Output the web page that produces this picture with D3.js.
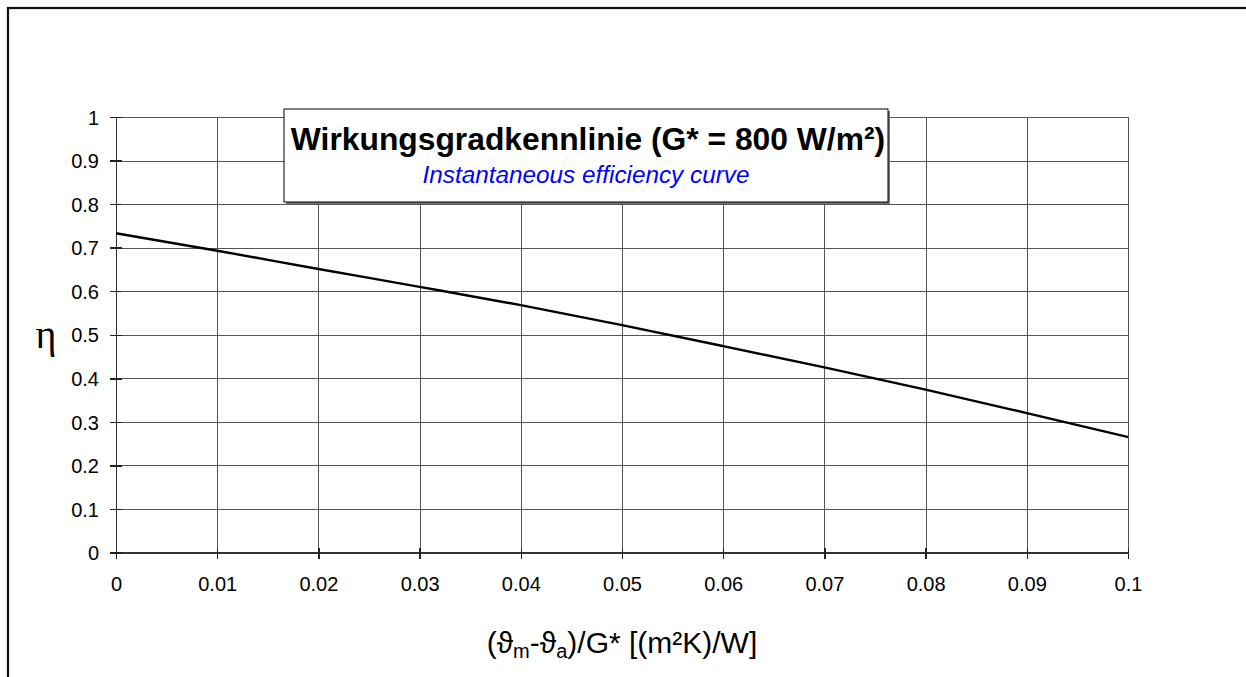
<!DOCTYPE html>
<html>
<head>
<meta charset="utf-8">
<script src="https://cdn.jsdelivr.net/npm/d3@7"></script>
<style>
  body { margin: 0; background: #fff; }
  svg { display: block; font-family: "Liberation Sans", Arial, sans-serif; }
  .grid line { stroke: #555; stroke-width: 1; shape-rendering: crispEdges; }
  .grid path { display: none; }
  .axis path { stroke: #333; stroke-width: 1.5; shape-rendering: crispEdges; }
  .axis line { stroke: #222; stroke-width: 1.5; shape-rendering: crispEdges; }
  .axis text { font-size: 20px; fill: #000; }
</style>
</head>
<body>
<div id="chart"></div>
<script>
// Data
var xValues = [0, 0.01, 0.02, 0.03, 0.04, 0.05, 0.06, 0.07, 0.08, 0.09, 0.1];
var etaValues = [0.733, 0.693, 0.651, 0.610, 0.568, 0.522, 0.474, 0.425, 0.374, 0.320, 0.265];

// Tick values and labels
var xTicks = [0, 0.01, 0.02, 0.03, 0.04, 0.05, 0.06, 0.07, 0.08, 0.09, 0.1];
var xTickLabels = ["0", "0.01", "0.02", "0.03", "0.04", "0.05", "0.06", "0.07", "0.08", "0.09", "0.1"];
var yTicks = [0, 0.1, 0.2, 0.3, 0.4, 0.5, 0.6, 0.7, 0.8, 0.9, 1];
var yTickLabels = ["0", "0.1", "0.2", "0.3", "0.4", "0.5", "0.6", "0.7", "0.8", "0.9", "1"];

var title = "Wirkungsgradkennlinie (G* = 800 W/m²)";
var subtitle = "Instantaneous efficiency curve";

var width = 1246;
var height = 677;

// Plot area
var plotLeft = 116, plotRight = 1128, plotTop = 117, plotBottom = 552.5;

var svg = d3.select("#chart")
    .append("svg")
    .attr("width", width)
    .attr("height", height);

// Outer frame (runs off the right and bottom edges)
svg.append("rect")
    .attr("x", 8)
    .attr("y", 8)
    .attr("width", width + 20)
    .attr("height", height + 20)
    .attr("fill", "none")
    .attr("stroke", "#111")
    .attr("stroke-width", 2.2);

var xScale = d3.scaleLinear().domain([0, 0.1]).range([plotLeft, plotRight]);
var yScale = d3.scaleLinear().domain([0, 1]).range([plotBottom, plotTop]);

// Gridlines
svg.append("g")
    .attr("class", "grid")
    .attr("transform", `translate(0, ${plotBottom})`)
    .call(d3.axisBottom(xScale).tickValues(xTicks).tickSize(-(plotBottom - plotTop)).tickFormat(""));

svg.append("g")
    .attr("class", "grid")
    .attr("transform", `translate(${plotLeft}, 0)`)
    .call(d3.axisLeft(yScale).tickValues(yTicks).tickSize(-(plotRight - plotLeft)).tickFormat(""));

// Axes
var xAxis = svg.append("g")
    .attr("class", "axis")
    .attr("transform", `translate(0, ${plotBottom})`)
    .call(d3.axisBottom(xScale)
        .tickValues(xTicks)
        .tickSizeOuter(0)
        .tickSizeInner(6)
        .tickFormat(function(d, i) { return xTickLabels[i]; }));
xAxis.selectAll(".tick line").attr("y1", -5);
xAxis.selectAll(".tick text").attr("y", 38.5).attr("dy", null);

var yAxis = svg.append("g")
    .attr("class", "axis")
    .attr("transform", `translate(${plotLeft}, 0)`)
    .call(d3.axisLeft(yScale)
        .tickValues(yTicks)
        .tickSizeOuter(0)
        .tickSizeInner(6)
        .tickPadding(11)
        .tickFormat(function(d, i) { return yTickLabels[i]; }));
yAxis.selectAll(".tick line").attr("x1", 6);
yAxis.selectAll(".tick text").attr("dy", "0.36em");

// Efficiency curve
var line = d3.line()
    .x(function(d, i) { return xScale(xValues[i]); })
    .y(function(d) { return yScale(d); })
    .curve(d3.curveMonotoneX);

svg.append("path")
    .datum(etaValues)
    .attr("d", line)
    .attr("fill", "none")
    .attr("stroke", "#000")
    .attr("stroke-width", 2.4);

// Title box with shadow
var box = { x: 284, y: 109, w: 604, h: 93 };
svg.append("rect")
    .attr("x", box.x + 2)
    .attr("y", box.y + 2)
    .attr("width", box.w)
    .attr("height", box.h)
    .attr("fill", "#777");
svg.append("rect")
    .attr("x", box.x)
    .attr("y", box.y)
    .attr("width", box.w)
    .attr("height", box.h)
    .attr("fill", "#fff")
    .attr("stroke", "#000")
    .attr("stroke-width", 1);

svg.append("text")
    .attr("x", 588)
    .attr("y", 150)
    .attr("text-anchor", "middle")
    .attr("font-size", 31.8)
    .attr("font-weight", "bold")
    .text(title);

svg.append("text")
    .attr("x", 586)
    .attr("y", 183)
    .attr("text-anchor", "middle")
    .attr("font-size", 24.3)
    .attr("font-style", "italic")
    .attr("fill", "#0000ff")
    .text(subtitle);

// Y axis label
svg.append("text")
    .attr("x", 46)
    .attr("y", 348)
    .attr("text-anchor", "middle")
    .attr("font-size", 40)
    .attr("font-family", "'Liberation Serif', 'DejaVu Serif', serif")
    .text("η");

// X axis label with subscripts
var xLabel = svg.append("text")
    .attr("x", (plotLeft + plotRight) / 2)
    .attr("y", 653)
    .attr("text-anchor", "middle")
    .attr("font-size", 30);
xLabel.append("tspan").text("(ϑ");
xLabel.append("tspan").attr("font-size", 20).attr("dy", 5).text("m");
xLabel.append("tspan").attr("dy", -5).text("-ϑ");
xLabel.append("tspan").attr("font-size", 20).attr("dy", 5).text("a");
xLabel.append("tspan").attr("dy", -5).text(")/G* [(m²K)/W]");
</script>
</body>
</html>
